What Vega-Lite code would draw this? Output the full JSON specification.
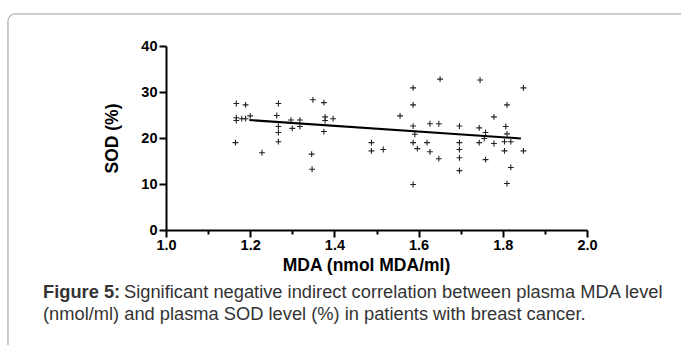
{
  "$schema": "https://vega.github.io/schema/vega-lite/v6.json",
  "autosize": {"type": "none"},
  "width": 421,
  "height": 184,
  "padding": {"left": 166, "top": 46, "right": 94, "bottom": 115},
  "background": "white",
  "config": {
    "view": {"stroke": null},
    "font": "Liberation Sans"
  },
  "datasets": {
    "points": [
      {"MDA": 1.167, "SOD": 27.5}, {"MDA": 1.189, "SOD": 27.2}, {"MDA": 1.167, "SOD": 24.4},
      {"MDA": 1.18, "SOD": 24.2}, {"MDA": 1.189, "SOD": 24.2}, {"MDA": 1.2, "SOD": 24.8},
      {"MDA": 1.167, "SOD": 23.8}, {"MDA": 1.165, "SOD": 19.0}, {"MDA": 1.228, "SOD": 16.8},
      {"MDA": 1.267, "SOD": 27.5}, {"MDA": 1.263, "SOD": 24.9}, {"MDA": 1.267, "SOD": 22.5},
      {"MDA": 1.267, "SOD": 21.2}, {"MDA": 1.267, "SOD": 19.2}, {"MDA": 1.297, "SOD": 23.9},
      {"MDA": 1.3, "SOD": 22.1}, {"MDA": 1.318, "SOD": 23.9}, {"MDA": 1.318, "SOD": 22.5},
      {"MDA": 1.349, "SOD": 28.3}, {"MDA": 1.346, "SOD": 16.5}, {"MDA": 1.347, "SOD": 13.2},
      {"MDA": 1.375, "SOD": 27.7}, {"MDA": 1.378, "SOD": 24.6}, {"MDA": 1.378, "SOD": 23.8},
      {"MDA": 1.375, "SOD": 21.4}, {"MDA": 1.397, "SOD": 24.2}, {"MDA": 1.488, "SOD": 19.0},
      {"MDA": 1.488, "SOD": 17.2}, {"MDA": 1.516, "SOD": 17.5}, {"MDA": 1.556, "SOD": 24.8},
      {"MDA": 1.587, "SOD": 30.9}, {"MDA": 1.587, "SOD": 27.2}, {"MDA": 1.587, "SOD": 22.6},
      {"MDA": 1.591, "SOD": 20.8}, {"MDA": 1.587, "SOD": 19.0}, {"MDA": 1.597, "SOD": 17.7},
      {"MDA": 1.587, "SOD": 9.9}, {"MDA": 1.62, "SOD": 19.0}, {"MDA": 1.627, "SOD": 23.1},
      {"MDA": 1.627, "SOD": 17.0}, {"MDA": 1.648, "SOD": 23.1}, {"MDA": 1.648, "SOD": 15.5},
      {"MDA": 1.651, "SOD": 32.8}, {"MDA": 1.697, "SOD": 22.6}, {"MDA": 1.697, "SOD": 19.0},
      {"MDA": 1.697, "SOD": 17.5}, {"MDA": 1.697, "SOD": 15.7}, {"MDA": 1.697, "SOD": 12.9},
      {"MDA": 1.746, "SOD": 32.6}, {"MDA": 1.744, "SOD": 22.2}, {"MDA": 1.744, "SOD": 19.0},
      {"MDA": 1.759, "SOD": 21.2}, {"MDA": 1.756, "SOD": 19.9}, {"MDA": 1.759, "SOD": 15.3},
      {"MDA": 1.779, "SOD": 24.6}, {"MDA": 1.779, "SOD": 18.8}, {"MDA": 1.81, "SOD": 27.2},
      {"MDA": 1.807, "SOD": 22.5}, {"MDA": 1.81, "SOD": 20.9}, {"MDA": 1.804, "SOD": 19.2},
      {"MDA": 1.819, "SOD": 19.2}, {"MDA": 1.804, "SOD": 17.2}, {"MDA": 1.819, "SOD": 13.6},
      {"MDA": 1.81, "SOD": 10.1}, {"MDA": 1.849, "SOD": 30.9}, {"MDA": 1.849, "SOD": 17.2}
    ],
    "fit": [
      {"MDA": 1.198, "SOD": 23.9},
      {"MDA": 1.843, "SOD": 19.9}
    ],
    "one": [{}]
  },
  "layer": [
    {
      "data": {"name": "one"},
      "mark": {"type": "rect", "fill": null, "stroke": "#999999", "strokeWidth": 1, "cornerRadius": 7},
      "encoding": {
        "x": {"datum": 0.6247, "type": "quantitative", "scale": {"domain": [1, 2], "nice": false, "zero": false}},
        "x2": {"datum": 2.27},
        "y": {"datum": 46.96, "type": "quantitative", "scale": {"domain": [0, 40], "nice": false, "zero": false}},
        "y2": {"datum": -30}
      }
    },
    {
      "data": {"name": "points"},
      "mark": {"type": "point", "shape": "M-1,0L1,0M0,-1L0,1", "filled": false, "stroke": "#222222", "strokeWidth": 1.1, "size": 34, "opacity": 1},
      "encoding": {
        "x": {
          "field": "MDA", "type": "quantitative",
          "scale": {"domain": [1, 2], "nice": false, "zero": false},
          "axis": {
            "title": "MDA (nmol MDA/ml)",
            "values": [1.0, 1.1, 1.2, 1.3, 1.4, 1.5, 1.6, 1.7, 1.8, 1.9, 2.0],
            "labelExpr": "round(datum.value*10) % 2 === 0 ? format(datum.value, '.1f') : ''",
            "grid": false,
            "domainColor": "black", "domainWidth": 2,
            "tickColor": "black", "tickWidth": 2,
            "tickSize": {"condition": {"test": "round(datum.value*10) % 2 === 0", "value": 7}, "value": 4},
            "labelFont": "Liberation Sans", "labelFontWeight": "bold", "labelFontSize": 14.5, "labelColor": "black",
            "labelPadding": 1, "labelFlush": false, "labelOverlap": false,
            "titleFont": "Liberation Sans", "titleFontWeight": "bold", "titleFontSize": 17.5, "titleColor": "black",
            "titlePadding": 5, "titleX": 200
          }
        },
        "y": {
          "field": "SOD", "type": "quantitative",
          "scale": {"domain": [0, 40], "nice": false, "zero": false},
          "axis": {
            "title": "SOD (%)",
            "values": [0, 5, 10, 15, 20, 25, 30, 35, 40],
            "labelExpr": "datum.value % 10 === 0 ? format(datum.value, 'd') : ''",
            "grid": false,
            "domainColor": "black", "domainWidth": 2,
            "tickColor": "black", "tickWidth": 2,
            "tickSize": {"condition": {"test": "datum.value % 10 === 0", "value": 7}, "value": 4},
            "labelFont": "Liberation Sans", "labelFontWeight": "bold", "labelFontSize": 14.5, "labelColor": "black",
            "labelPadding": 2, "labelFlush": false, "labelOverlap": false,
            "titleFont": "Liberation Sans", "titleFontWeight": "bold", "titleFontSize": 17.5, "titleColor": "black",
            "titlePadding": 19
          }
        }
      }
    },
    {
      "data": {"name": "fit"},
      "mark": {"type": "line", "color": "black", "strokeWidth": 2},
      "encoding": {
        "x": {"field": "MDA", "type": "quantitative"},
        "y": {"field": "SOD", "type": "quantitative"}
      }
    },
    {
      "data": {"name": "one"},
      "mark": {"type": "text", "text": "Figure 5:", "align": "left", "baseline": "middle", "font": "Liberation Sans", "fontWeight": "bold", "fontSize": 18.3, "fill": "#333333"},
      "encoding": {
        "x": {"datum": 0.7078, "type": "quantitative"},
        "y": {"datum": -13.7, "type": "quantitative"}
      }
    },
    {
      "data": {"name": "one"},
      "mark": {"type": "text", "text": "Significant negative indirect correlation between plasma MDA level", "align": "left", "baseline": "middle", "font": "Liberation Sans", "fontSize": 18.3, "fill": "#333333"},
      "encoding": {
        "x": {"datum": 0.9002, "type": "quantitative"},
        "y": {"datum": -13.7, "type": "quantitative"}
      }
    },
    {
      "data": {"name": "one"},
      "mark": {"type": "text", "text": "(nmol/ml) and plasma SOD level (%) in patients with breast cancer.", "align": "left", "baseline": "middle", "font": "Liberation Sans", "fontSize": 18.3, "fill": "#333333"},
      "encoding": {
        "x": {"datum": 0.7078, "type": "quantitative"},
        "y": {"datum": -18.5, "type": "quantitative"}
      }
    }
  ]
}
